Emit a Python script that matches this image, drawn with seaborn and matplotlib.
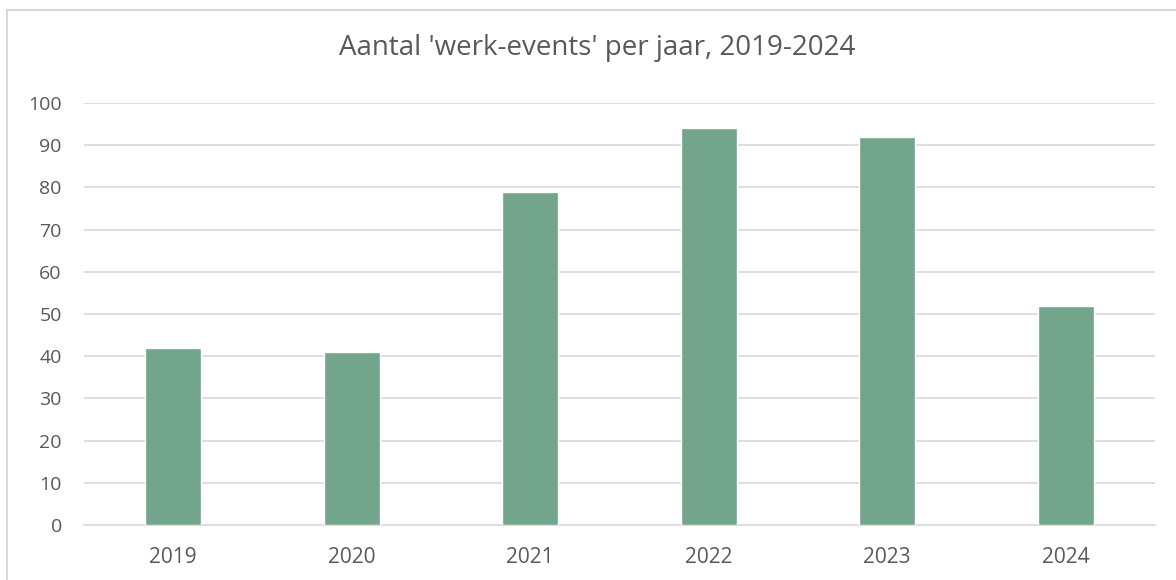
import matplotlib
matplotlib.use("Agg")
import matplotlib.pyplot as plt
import seaborn as sns
import pandas as pd
from matplotlib.patches import Rectangle

years = ["2019", "2020", "2021", "2022", "2023", "2024"]
counts = [42, 41, 79, 94, 92, 52]
yticks = [0, 10, 20, 30, 40, 50, 60, 70, 80, 90, 100]
title = "Aantal 'werk-events' per jaar, 2019-2024"

sns.set_theme(style="white")
plt.rcParams['font.family'] = ['Open Sans', 'DejaVu Sans']

W, H = 1176, 580
fig = plt.figure(figsize=(W / 100, H / 100), dpi=100)
fig.patch.set_facecolor("white")
ax = fig.add_axes([84 / W, 1 - 525 / H, (1155 - 84) / W, (525 - 103) / H])

df = pd.DataFrame({"year": years, "count": counts})
sns.barplot(data=df, x="year", y="count", color="#72A58C", saturation=1,
            width=0.315, ax=ax, zorder=3)

ax.set_ylim(0, 100)
ax.set_yticks(yticks)
ax.set_xlim(-0.5, len(years) - 0.5)
ax.yaxis.grid(True, color="#d9d9d9", linewidth=1.2, zorder=0)
ax.set_axisbelow(True)
for s in ["top", "right", "left"]:
    ax.spines[s].set_visible(False)
ax.spines["bottom"].set_color("#d9d9d9")
ax.spines["bottom"].set_linewidth(1.2)
ax.tick_params(axis="both", length=0, colors="#595959")
ax.tick_params(axis="y", labelsize=14, pad=16)
ax.tick_params(axis="x", labelsize=15, pad=16)
ax.set_xlabel("")
ax.set_ylabel("")

fig.text(597 / W, 1 - 48 / H, title, ha="center", va="center",
         fontsize=20, color="#595959")

fig.patches.append(Rectangle((7 / W, -0.1), 1.2, 1 - 10 / H + 0.1,
                             transform=fig.transFigure, fill=False,
                             edgecolor="#d9d9d9", linewidth=1.5))

fig.savefig("out.png", dpi=100)
